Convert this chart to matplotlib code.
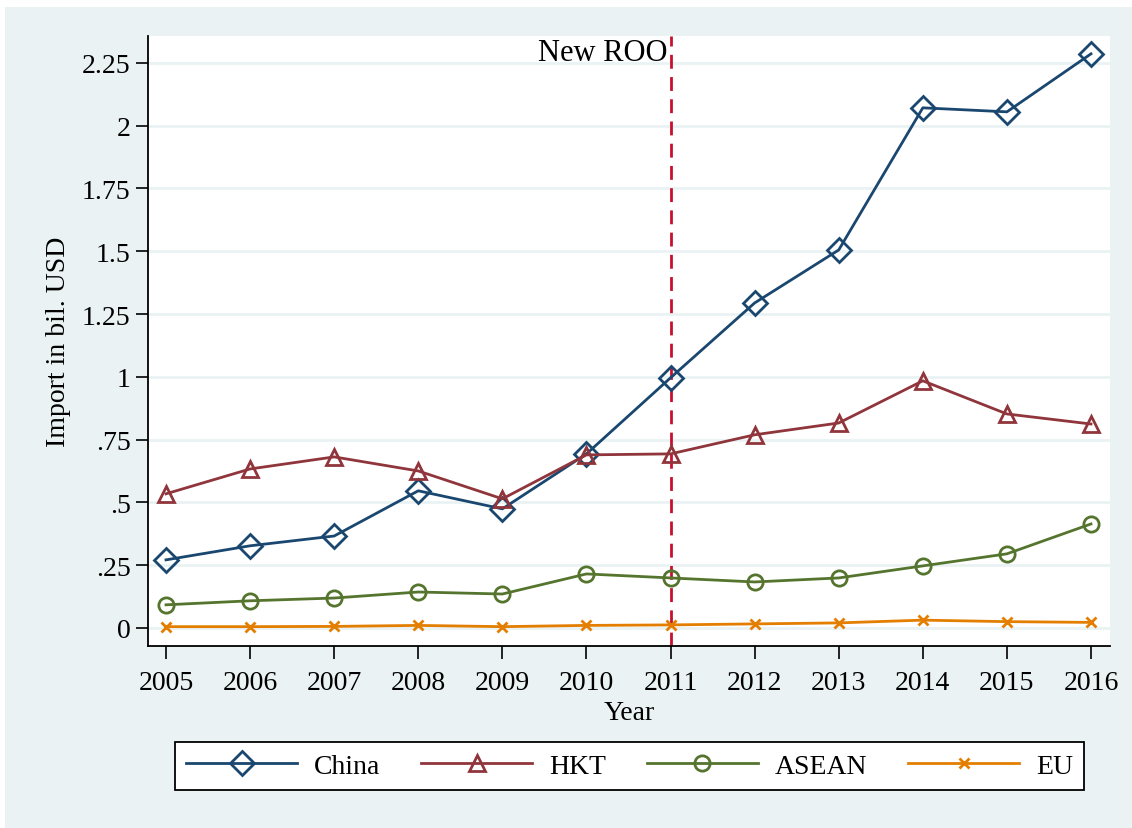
import matplotlib.pyplot as plt
from matplotlib.patches import Rectangle

# data (import in bil. USD)
years = [2005, 2006, 2007, 2008, 2009, 2010, 2011, 2012, 2013, 2014, 2015, 2016]
china = [0.271, 0.327, 0.366, 0.546, 0.474, 0.693, 0.996, 1.294, 1.505, 2.071, 2.055, 2.286]
hkt = [0.534, 0.633, 0.681, 0.625, 0.514, 0.689, 0.693, 0.769, 0.816, 0.984, 0.852, 0.812]
asean = [0.092, 0.108, 0.119, 0.143, 0.135, 0.215, 0.199, 0.183, 0.199, 0.247, 0.295, 0.414]
eu = [0.005, 0.005, 0.006, 0.010, 0.005, 0.010, 0.012, 0.016, 0.020, 0.031, 0.025, 0.022]
yticks = [0, 0.25, 0.5, 0.75, 1, 1.25, 1.5, 1.75, 2, 2.25]
ytick_labels = ['0', '.25', '.5', '.75', '1', '1.25', '1.5', '1.75', '2', '2.25']
roo_year = 2011

plt.rcParams['font.family'] = ['Liberation Serif', 'DejaVu Serif']
bg = '#eaf2f3'

fig = plt.figure(figsize=(11.32, 8.29), dpi=100, facecolor='white')
# outer grey panel (small white strip on top and left)
fig.patches.append(Rectangle((5 / 1132, 0), 1, 1 - 8 / 829, transform=fig.transFigure,
                             facecolor=bg, edgecolor='none', zorder=-10))

ax = fig.add_axes([148 / 1132, 1 - 647 / 829, (1110 - 148) / 1132, (647 - 37) / 829])
ax.set_facecolor('white')

ax.plot(years, china, color='#1a476f', lw=2, marker='D', ms=12, mfc='none', mew=2, label='China')
ax.plot(years, hkt, color='#90353b', lw=2, marker='^', ms=12, mfc='none', mew=2, label='HKT')
ax.plot(years, asean, color='#55752f', lw=2, marker='o', ms=11, mfc='none', mew=2, label='ASEAN')
ax.plot(years, eu, color='#e37e00', lw=2, marker='x', ms=7, mew=2, label='EU')

ax.axvline(roo_year, color='#c8102e', lw=2, ls=(0, (5, 3)), zorder=1)
ax.text(roo_year - 0.04, 2.35, 'New ROO', ha='right', va='top', fontsize=22)

ax.set_xlim(2004.786, 2016.226)
ax.set_ylim(-0.072, 2.357)
ax.set_xticks(years)
ax.set_yticks(yticks)
ax.set_yticklabels(ytick_labels)
ax.tick_params(labelsize=20, length=9, width=1.2, color='black')
ax.tick_params(axis='x', pad=8)
ax.grid(axis='y', color=bg, lw=2, zorder=0)
ax.set_axisbelow(True)

ax.spines['top'].set_visible(False)
ax.spines['right'].set_visible(False)
ax.spines['left'].set_linewidth(1.3)
ax.spines['bottom'].set_linewidth(1.3)

ax.set_xlabel('Year', fontsize=20, labelpad=4)
ax.set_ylabel('Import in bil. USD', fontsize=20, labelpad=8)

leg = fig.legend(loc='center', ncol=4, mode='expand', borderaxespad=0,
                 bbox_to_anchor=(175 / 1132, 1 - 793 / 829, (1084 - 175) / 1132, 52 / 829),
                 fontsize=20, frameon=True, fancybox=False, edgecolor='black', framealpha=1,
                 handlelength=4, handletextpad=0.6, columnspacing=1.5, borderpad=0.4)
leg.get_frame().set_linewidth(1.3)

fig.savefig('out.png', dpi=100, facecolor=fig.get_facecolor())
